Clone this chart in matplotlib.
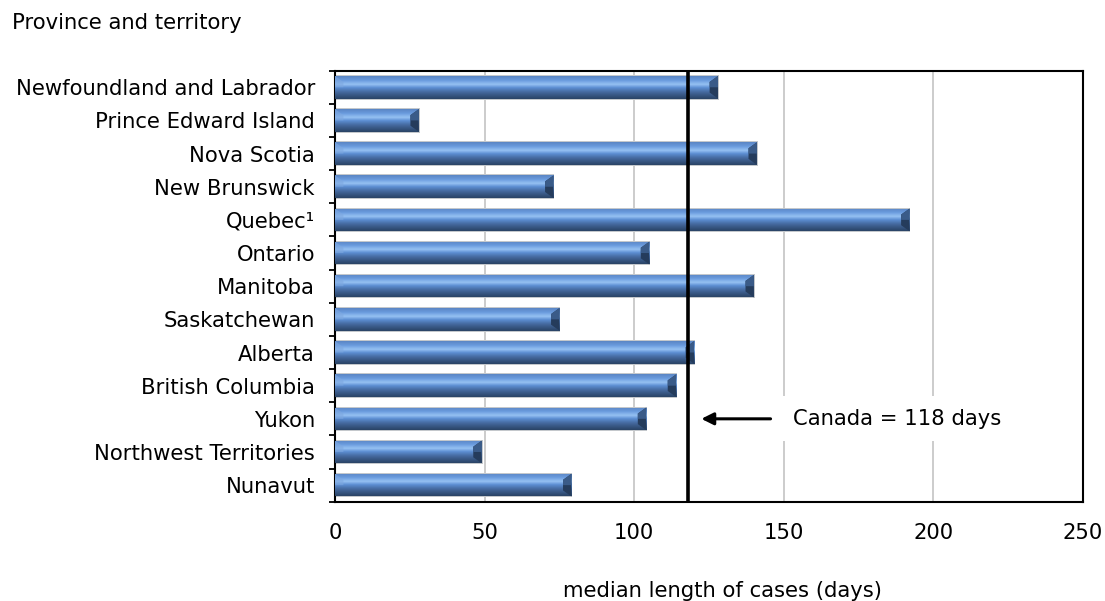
import numpy as np
import matplotlib
matplotlib.use("Agg")
import matplotlib.pyplot as plt
from matplotlib.colors import LinearSegmentedColormap
from matplotlib.patches import Polygon, Rectangle

provinces = [
    "Newfoundland and Labrador", "Prince Edward Island", "Nova Scotia",
    "New Brunswick", "Quebec\u00b9", "Ontario", "Manitoba", "Saskatchewan",
    "Alberta", "British Columbia", "Yukon", "Northwest Territories", "Nunavut",
]
median_days = [128, 28, 141, 73, 192, 105, 140, 75, 120, 114, 104, 49, 79]
canada_days = 118
x_ticks = [0, 50, 100, 150, 200, 250]

plt.rcParams["font.family"] = ["DejaVu Sans"]
FS = 15.2

fig = plt.figure(figsize=(11.05, 6.01), dpi=100)
ax = fig.add_axes([0.3032, 0.1652, 0.6769, 0.7172])

n = len(provinces)
ypos = np.arange(n)
bar_h = 0.68

# vertical shading of the bars: rim, bright highlight band, dark base
shade = LinearSegmentedColormap.from_list(
    "bar_shade",
    [(0.0, "#5a86c4"), (0.18, "#6a9bde"), (0.36, "#96c1f2"),
     (0.5, "#5d8fd4"), (0.7, "#45699e"), (0.88, "#34527c"), (1.0, "#2a4366")],
)
grad = np.linspace(0, 1, 64).reshape(-1, 1)

ax.set_xlim(0, 250)
ax.set_ylim(n - 0.5, -0.5)

cap_w = 2.8
cap_in = 0.18
for y, v in zip(ypos, median_days):
    top, bot = y - bar_h / 2, y + bar_h / 2
    # soft gray outline
    ax.add_patch(Rectangle((0, top - 0.03), v + 0.3, bar_h + 0.06,
                           facecolor="#c4c8cc", edgecolor="none", zorder=2))
    im = ax.imshow(grad, aspect="auto", cmap=shade,
                   extent=(0, v, bot, top), zorder=3, interpolation="bilinear")
    clip = Rectangle((0, top), v, bar_h, transform=ax.transData)
    im.set_clip_path(clip)
    # bevelled end cap
    ax.add_patch(Polygon([(v - cap_w, top + cap_in), (v, top), (v, bot),
                          (v - cap_w, bot - cap_in)], closed=True,
                         facecolor="#253c5c", edgecolor="none", zorder=4))
    ax.add_patch(Polygon([(v - cap_w, top + cap_in), (v, top),
                          (v, y), (v - cap_w, y)], closed=True,
                         facecolor="#3a5b88", edgecolor="none", zorder=4))
    # light bevel at the start of the bar
    ax.add_patch(Polygon([(0, top), (cap_w, top + cap_in),
                          (cap_w, y), (0, y)], closed=True,
                         facecolor="#7ea8e0", edgecolor="none", alpha=0.6,
                         zorder=4))

ax.set_yticks(ypos)
ax.set_yticklabels(provinces, fontsize=FS)
ax.tick_params(axis="y", which="major", length=0, pad=14.5)
ax.set_yticks(np.arange(-0.5, n, 1.0), minor=True)
ax.tick_params(axis="y", which="minor", length=4, width=1.3, direction="out")

ax.set_xticks(x_ticks)
ax.set_xticklabels([str(t) for t in x_ticks], fontsize=FS)
ax.tick_params(axis="x", length=0, pad=15)
ax.grid(axis="x", color="#c4c4c4", linewidth=1.2, zorder=0)
ax.grid(axis="y", visible=False)
ax.set_axisbelow(True)

for s in ax.spines.values():
    s.set_linewidth(1.5)
    s.set_color("black")

ax.axvline(canada_days, color="black", linewidth=2.6, zorder=5)

row = provinces.index("Yukon")
ax.text(153, row, f"Canada = {canada_days} days", fontsize=FS,
        va="center", ha="left", zorder=6,
        bbox=dict(facecolor="white", edgecolor="none", pad=9))
ax.annotate("", xy=(121.5, row), xytext=(146.5, row),
            arrowprops=dict(arrowstyle="-|>", color="black", lw=2.2,
                            mutation_scale=18),
            zorder=6)

fig.text(0.011, 0.962, "Province and territory", fontsize=FS,
         ha="left", va="center")
fig.text(0.654, 0.016, "median length of cases (days)", fontsize=FS,
         ha="center", va="center")

fig.savefig("out.png", dpi=100)
